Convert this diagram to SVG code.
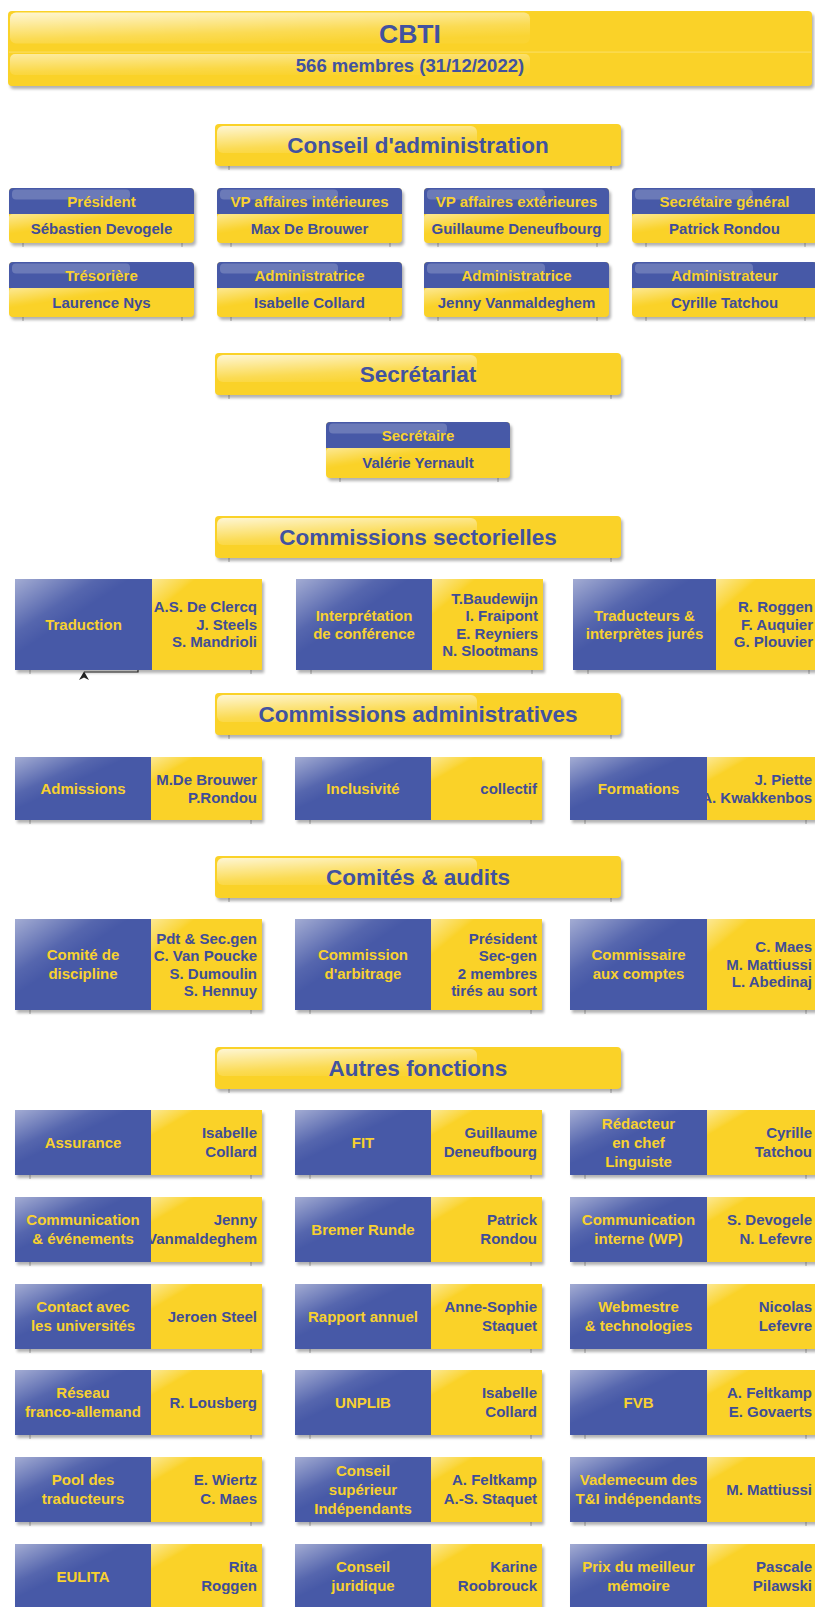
<svg xmlns="http://www.w3.org/2000/svg" width="815" height="1607" viewBox="0 0 815 1607">
<defs>
<filter id="blur" x="-10%" y="-20%" width="130%" height="150%"><feGaussianBlur stdDeviation="1.6"/></filter>
<linearGradient id="gB" x1="0" y1="0" x2="1" y2="1"><stop offset="0" stop-color="#fff" stop-opacity=".5"/><stop offset=".3" stop-color="#fff" stop-opacity=".08"/><stop offset=".42" stop-color="#fff" stop-opacity="0"/></linearGradient>
<linearGradient id="gY" x1="0" y1="0" x2="1" y2="1"><stop offset="0" stop-color="#fff" stop-opacity=".5"/><stop offset=".17" stop-color="#fff" stop-opacity=".1"/><stop offset=".2" stop-color="#fff" stop-opacity="0"/></linearGradient>
<linearGradient id="gY2" x1="0" y1="0" x2="1" y2="1"><stop offset="0" stop-color="#fff" stop-opacity=".5"/><stop offset=".3" stop-color="#fff" stop-opacity=".05"/><stop offset=".35" stop-color="#fff" stop-opacity="0"/></linearGradient>
<linearGradient id="gBar" x1="0" y1="0" x2=".5" y2="1"><stop offset="0" stop-color="#fff" stop-opacity=".8"/><stop offset=".7" stop-color="#fff" stop-opacity=".2"/><stop offset="1" stop-color="#fff" stop-opacity=".05"/></linearGradient>
</defs>
<style>
.by{fill:#fad228}
.bb{fill:#4759a7}
.sh{fill:#000;opacity:.3;filter:url(#blur)}
.hg{fill:#fff;opacity:.2}
text{font-family:"Liberation Sans",Arial,sans-serif;font-weight:bold}
.tS{fill:#4152a0;font-size:22.5px;text-anchor:middle}
.tY{fill:#f8d12f;font-size:15px;text-anchor:middle}
.tN{fill:#3f4d98;font-size:15px;text-anchor:middle}
.tR{fill:#3f4d98;font-size:15px;text-anchor:end}
.tick{stroke:#8a8a8a;stroke-width:1;opacity:.7}
.arr{stroke:#333;stroke-width:1.2;fill:none}
</style>

<g id="connectors">
<path class="tick" d="M229,166V170M611,166V170M229,395V399M611,395V399M229,558V562M611,558V562M229,735V739M611,735V739M229,898V902M611,898V902M229,1089V1093M611,1089V1093"/>
<path class="tick" d="M23,243V247M182,243V247M231,243V247M390,243V247M438,243V247M597,243V247M646,243V247M805,243V247M23,317V321M182,317V321M231,317V321M390,317V321M438,317V321M597,317V321M646,317V321M805,317V321M340,478V482M498,478V482"/>
<path class="tick" d="M30,670V674M251,670V674M311,670V674M532,670V674M588,670V674M809,670V674"/>
<path class="tick" d="M30,820V824M251,820V824M310,820V824M531,820V824M585,820V824M806,820V824M30,1010V1014M251,1010V1014M310,1010V1014M531,1010V1014M585,1010V1014M806,1010V1014"/>
<path class="tick" d="M30,1175V1179M251,1175V1179M310,1175V1179M531,1175V1179M585,1175V1179M806,1175V1179M30,1262V1266M251,1262V1266M310,1262V1266M531,1262V1266M585,1262V1266M806,1262V1266M30,1349V1353M251,1349V1353M310,1349V1353M531,1349V1353M585,1349V1353M806,1349V1353M30,1435V1439M251,1435V1439M310,1435V1439M531,1435V1439M585,1435V1439M806,1435V1439M30,1522V1526M251,1522V1526M310,1522V1526M531,1522V1526M585,1522V1526M806,1522V1526"/>
<path class="arr" d="M138,668.5V672H84"/>
<polygon points="84,671.5 89,680 84,677.5 79,680" fill="#222"/>
</g>

<g id="title">
<rect class="sh" x="10" y="14" width="804" height="75" rx="4"/>
<rect class="by" x="8" y="11" width="804" height="75" rx="4"/>
<rect x="10" y="12.5" width="520" height="31" rx="6" fill="url(#gBar)"/>
<rect x="9" y="51.5" width="802" height="1.2" fill="#fff" opacity=".25"/>
<rect x="10" y="54" width="520" height="21" rx="5" fill="url(#gBar)" opacity=".7"/>
<text class="tS" x="410" y="43" style="font-size:26.5px">CBTI</text>
<text class="tS" x="410" y="71.5" style="font-size:18.5px">566 membres (31/12/2022)</text>
</g>

<g id="s-conseil">
<rect class="sh" x="217" y="127" width="406" height="42" rx="4"/>
<rect class="by" x="215" y="124" width="406" height="42" rx="4"/>
<rect x="217" y="126" width="260" height="27" rx="6" fill="url(#gBar)"/>
<text class="tS" x="418" y="153">Conseil d'administration</text>
</g>

<g id="b-president">
<rect class="sh" x="11" y="191" width="185" height="55" rx="4"/>
<rect class="by" x="9" y="188" width="185" height="55" rx="4"/>
<rect x="9" y="214" width="185" height="29" rx="4" fill="url(#gY2)"/>
<path class="bb" d="M9,214V192Q9,188 13,188H190Q194,188 194,192V214Z"/>
<rect class="hg" x="12" y="189.5" width="118" height="10" rx="4"/>
<text class="tY" x="101.5" y="207">Président</text>
<text class="tN" x="101.5" y="233.5">Sébastien Devogele</text>
</g>
<g id="b-vpint">
<rect class="sh" x="219" y="191" width="185" height="55" rx="4"/>
<rect class="by" x="217" y="188" width="185" height="55" rx="4"/>
<rect x="217" y="214" width="185" height="29" rx="4" fill="url(#gY2)"/>
<path class="bb" d="M217,214V192Q217,188 221,188H398Q402,188 402,192V214Z"/>
<rect class="hg" x="220" y="189.5" width="118" height="10" rx="4"/>
<text class="tY" x="309.5" y="207">VP affaires intérieures</text>
<text class="tN" x="309.5" y="233.5">Max De Brouwer</text>
</g>
<g id="b-vpext">
<rect class="sh" x="426" y="191" width="185" height="55" rx="4"/>
<rect class="by" x="424" y="188" width="185" height="55" rx="4"/>
<rect x="424" y="214" width="185" height="29" rx="4" fill="url(#gY2)"/>
<path class="bb" d="M424,214V192Q424,188 428,188H605Q609,188 609,192V214Z"/>
<rect class="hg" x="427" y="189.5" width="118" height="10" rx="4"/>
<text class="tY" x="516.5" y="207">VP affaires extérieures</text>
<text class="tN" x="516.5" y="233.5">Guillaume Deneufbourg</text>
</g>
<g id="b-secgen">
<rect class="sh" x="634" y="191" width="185" height="55" rx="4"/>
<rect class="by" x="632" y="188" width="185" height="55" rx="4"/>
<rect x="632" y="214" width="185" height="29" rx="4" fill="url(#gY2)"/>
<path class="bb" d="M632,214V192Q632,188 636,188H813Q817,188 817,192V214Z"/>
<rect class="hg" x="635" y="189.5" width="118" height="10" rx="4"/>
<text class="tY" x="724.5" y="207">Secrétaire général</text>
<text class="tN" x="724.5" y="233.5">Patrick Rondou</text>
</g>

<g id="b-tresoriere">
<rect class="sh" x="11" y="265" width="185" height="55" rx="4"/>
<rect class="by" x="9" y="262" width="185" height="55" rx="4"/>
<rect x="9" y="288" width="185" height="29" rx="4" fill="url(#gY2)"/>
<path class="bb" d="M9,288V266Q9,262 13,262H190Q194,262 194,266V288Z"/>
<rect class="hg" x="12" y="263.5" width="118" height="10" rx="4"/>
<text class="tY" x="101.5" y="281">Trésorière</text>
<text class="tN" x="101.5" y="307.5">Laurence Nys</text>
</g>
<g id="b-admin1">
<rect class="sh" x="219" y="265" width="185" height="55" rx="4"/>
<rect class="by" x="217" y="262" width="185" height="55" rx="4"/>
<rect x="217" y="288" width="185" height="29" rx="4" fill="url(#gY2)"/>
<path class="bb" d="M217,288V266Q217,262 221,262H398Q402,262 402,266V288Z"/>
<rect class="hg" x="220" y="263.5" width="118" height="10" rx="4"/>
<text class="tY" x="309.5" y="281">Administratrice</text>
<text class="tN" x="309.5" y="307.5">Isabelle Collard</text>
</g>
<g id="b-admin2">
<rect class="sh" x="426" y="265" width="185" height="55" rx="4"/>
<rect class="by" x="424" y="262" width="185" height="55" rx="4"/>
<rect x="424" y="288" width="185" height="29" rx="4" fill="url(#gY2)"/>
<path class="bb" d="M424,288V266Q424,262 428,262H605Q609,262 609,266V288Z"/>
<rect class="hg" x="427" y="263.5" width="118" height="10" rx="4"/>
<text class="tY" x="516.5" y="281">Administratrice</text>
<text class="tN" x="516.5" y="307.5">Jenny Vanmaldeghem</text>
</g>
<g id="b-admin3">
<rect class="sh" x="634" y="265" width="185" height="55" rx="4"/>
<rect class="by" x="632" y="262" width="185" height="55" rx="4"/>
<rect x="632" y="288" width="185" height="29" rx="4" fill="url(#gY2)"/>
<path class="bb" d="M632,288V266Q632,262 636,262H813Q817,262 817,266V288Z"/>
<rect class="hg" x="635" y="263.5" width="118" height="10" rx="4"/>
<text class="tY" x="724.5" y="281">Administrateur</text>
<text class="tN" x="724.5" y="307.5">Cyrille Tatchou</text>
</g>

<g id="s-secretariat">
<rect class="sh" x="217" y="356" width="406" height="42" rx="4"/>
<rect class="by" x="215" y="353" width="406" height="42" rx="4"/>
<rect x="217" y="355" width="260" height="27" rx="6" fill="url(#gBar)"/>
<text class="tS" x="418" y="382">Secrétariat</text>
</g>

<g id="b-secretaire">
<rect class="sh" x="328" y="425" width="184" height="56" rx="4"/>
<rect class="by" x="326" y="422" width="184" height="56" rx="4"/>
<rect x="326" y="448" width="184" height="30" rx="4" fill="url(#gY2)"/>
<path class="bb" d="M326,448V426Q326,422 330,422H506Q510,422 510,426V448Z"/>
<rect class="hg" x="329" y="423.5" width="118" height="10" rx="4"/>
<text class="tY" x="418" y="441">Secrétaire</text>
<text class="tN" x="418" y="468">Valérie Yernault</text>
</g>

<g id="s-sectorielles">
<rect class="sh" x="217" y="519" width="406" height="42" rx="4"/>
<rect class="by" x="215" y="516" width="406" height="42" rx="4"/>
<rect x="217" y="518" width="260" height="27" rx="6" fill="url(#gBar)"/>
<text class="tS" x="418" y="545">Commissions sectorielles</text>
</g>

<g id="c-traduction">
<rect class="sh" x="17" y="582" width="247" height="91"/>
<rect class="by" x="15" y="579" width="247" height="91"/>
<rect x="152" y="579" width="110" height="91" fill="url(#gY)"/>
<text class="tR"><tspan x="257" y="612.4">A.S. De Clercq</tspan><tspan x="257" y="629.9">J. Steels</tspan><tspan x="257" y="647.4">S. Mandrioli</tspan></text>
<rect class="bb" x="15" y="579" width="137" height="91"/>
<rect x="15" y="579" width="137" height="91" fill="url(#gB)"/>
<text class="tY" x="83.5" y="630">Traduction</text>
</g>
<g id="c-interpretation">
<rect class="sh" x="298" y="582" width="247" height="91"/>
<rect class="by" x="296" y="579" width="247" height="91"/>
<rect x="432" y="579" width="111" height="91" fill="url(#gY)"/>
<text class="tR"><tspan x="538" y="603.7">T.Baudewijn</tspan><tspan x="538" y="621.2">I. Fraipont</tspan><tspan x="538" y="638.7">E. Reyniers</tspan><tspan x="538" y="656.2">N. Slootmans</tspan></text>
<rect class="bb" x="296" y="579" width="136" height="91"/>
<rect x="296" y="579" width="136" height="91" fill="url(#gB)"/>
<text class="tY"><tspan x="364" y="621.2">Interprétation</tspan><tspan x="364" y="638.7">de conférence</tspan></text>
</g>
<g id="c-jures">
<rect class="sh" x="575" y="582" width="247" height="91"/>
<rect class="by" x="573" y="579" width="247" height="91"/>
<rect x="716" y="579" width="104" height="91" fill="url(#gY)"/>
<text class="tR"><tspan x="813" y="612.4">R. Roggen</tspan><tspan x="813" y="629.9">F. Auquier</tspan><tspan x="813" y="647.4">G. Plouvier</tspan></text>
<rect class="bb" x="573" y="579" width="143" height="91"/>
<rect x="573" y="579" width="143" height="91" fill="url(#gB)"/>
<text class="tY"><tspan x="644.5" y="621.2">Traducteurs &amp;</tspan><tspan x="644.5" y="638.7">interprètes jurés</tspan></text>
</g>

<g id="s-administratives">
<rect class="sh" x="217" y="696" width="406" height="42" rx="4"/>
<rect class="by" x="215" y="693" width="406" height="42" rx="4"/>
<rect x="217" y="695" width="260" height="27" rx="6" fill="url(#gBar)"/>
<text class="tS" x="418" y="722">Commissions administratives</text>
</g>

<g id="c-admissions">
<rect class="sh" x="17" y="760" width="247" height="63"/>
<rect class="by" x="15" y="757" width="247" height="63"/>
<rect x="151" y="757" width="111" height="63" fill="url(#gY)"/>
<text class="tR"><tspan x="257" y="784.9">M.De Brouwer</tspan><tspan x="257" y="802.9">P.Rondou</tspan></text>
<rect class="bb" x="15" y="757" width="136" height="63"/>
<rect x="15" y="757" width="136" height="63" fill="url(#gB)"/>
<text class="tY" x="83" y="793.9">Admissions</text>
</g>
<g id="c-inclusivite">
<rect class="sh" x="297" y="760" width="247" height="63"/>
<rect class="by" x="295" y="757" width="247" height="63"/>
<rect x="431" y="757" width="111" height="63" fill="url(#gY)"/>
<text class="tR" x="537" y="793.9">collectif</text>
<rect class="bb" x="295" y="757" width="136" height="63"/>
<rect x="295" y="757" width="136" height="63" fill="url(#gB)"/>
<text class="tY" x="363" y="793.9">Inclusivité</text>
</g>
<g id="c-formations">
<rect class="sh" x="572" y="760" width="247" height="63"/>
<rect class="by" x="570" y="757" width="247" height="63"/>
<rect x="707" y="757" width="110" height="63" fill="url(#gY)"/>
<text class="tR"><tspan x="812" y="784.9">J. Piette</tspan><tspan x="812" y="802.9">A. Kwakkenbos</tspan></text>
<rect class="bb" x="570" y="757" width="137" height="63"/>
<rect x="570" y="757" width="137" height="63" fill="url(#gB)"/>
<text class="tY" x="638.5" y="793.9">Formations</text>
</g>

<g id="s-comites">
<rect class="sh" x="217" y="859" width="406" height="42" rx="4"/>
<rect class="by" x="215" y="856" width="406" height="42" rx="4"/>
<rect x="217" y="858" width="260" height="27" rx="6" fill="url(#gBar)"/>
<text class="tS" x="418" y="885">Comités &amp; audits</text>
</g>

<g id="c-discipline">
<rect class="sh" x="17" y="922" width="247" height="91"/>
<rect class="by" x="15" y="919" width="247" height="91"/>
<rect x="151" y="919" width="111" height="91" fill="url(#gY)"/>
<text class="tR"><tspan x="257" y="943.7">Pdt &amp; Sec.gen</tspan><tspan x="257" y="961.2">C. Van Poucke</tspan><tspan x="257" y="978.7">S. Dumoulin</tspan><tspan x="257" y="996.2">S. Hennuy</tspan></text>
<rect class="bb" x="15" y="919" width="136" height="91"/>
<rect x="15" y="919" width="136" height="91" fill="url(#gB)"/>
<text class="tY"><tspan x="83" y="960.4">Comité de</tspan><tspan x="83" y="979.4">discipline</tspan></text>
</g>
<g id="c-arbitrage">
<rect class="sh" x="297" y="922" width="247" height="91"/>
<rect class="by" x="295" y="919" width="247" height="91"/>
<rect x="431" y="919" width="111" height="91" fill="url(#gY)"/>
<text class="tR"><tspan x="537" y="943.7">Président</tspan><tspan x="537" y="961.2">Sec-gen</tspan><tspan x="537" y="978.7">2 membres</tspan><tspan x="537" y="996.2">tirés au sort</tspan></text>
<rect class="bb" x="295" y="919" width="136" height="91"/>
<rect x="295" y="919" width="136" height="91" fill="url(#gB)"/>
<text class="tY"><tspan x="363" y="960.4">Commission</tspan><tspan x="363" y="979.4">d'arbitrage</tspan></text>
</g>
<g id="c-comptes">
<rect class="sh" x="572" y="922" width="247" height="91"/>
<rect class="by" x="570" y="919" width="247" height="91"/>
<rect x="707" y="919" width="110" height="91" fill="url(#gY)"/>
<text class="tR"><tspan x="812" y="952.4">C. Maes</tspan><tspan x="812" y="969.9">M. Mattiussi</tspan><tspan x="812" y="987.4">L. Abedinaj</tspan></text>
<rect class="bb" x="570" y="919" width="137" height="91"/>
<rect x="570" y="919" width="137" height="91" fill="url(#gB)"/>
<text class="tY"><tspan x="638.5" y="960.4">Commissaire</tspan><tspan x="638.5" y="979.4">aux comptes</tspan></text>
</g>

<g id="s-autres">
<rect class="sh" x="217" y="1050" width="406" height="42" rx="4"/>
<rect class="by" x="215" y="1047" width="406" height="42" rx="4"/>
<rect x="217" y="1049" width="260" height="27" rx="6" fill="url(#gBar)"/>
<text class="tS" x="418" y="1076">Autres fonctions</text>
</g>

<g id="a-assurance">
<rect class="sh" x="17" y="1113" width="247" height="65"/>
<rect class="by" x="15" y="1110" width="247" height="65"/>
<rect x="151" y="1110" width="111" height="65" fill="url(#gY)"/>
<text class="tR"><tspan x="257" y="1138.4">Isabelle</tspan><tspan x="257" y="1157.4">Collard</tspan></text>
<rect class="bb" x="15" y="1110" width="136" height="65"/>
<rect x="15" y="1110" width="136" height="65" fill="url(#gB)"/>
<text class="tY" x="83" y="1147.9">Assurance</text>
</g>
<g id="a-fit">
<rect class="sh" x="297" y="1113" width="247" height="65"/>
<rect class="by" x="295" y="1110" width="247" height="65"/>
<rect x="431" y="1110" width="111" height="65" fill="url(#gY)"/>
<text class="tR"><tspan x="537" y="1138.4">Guillaume</tspan><tspan x="537" y="1157.4">Deneufbourg</tspan></text>
<rect class="bb" x="295" y="1110" width="136" height="65"/>
<rect x="295" y="1110" width="136" height="65" fill="url(#gB)"/>
<text class="tY" x="363" y="1147.9">FIT</text>
</g>
<g id="a-redacteur">
<rect class="sh" x="572" y="1113" width="247" height="65"/>
<rect class="by" x="570" y="1110" width="247" height="65"/>
<rect x="707" y="1110" width="110" height="65" fill="url(#gY)"/>
<text class="tR"><tspan x="812" y="1138.4">Cyrille</tspan><tspan x="812" y="1157.4">Tatchou</tspan></text>
<rect class="bb" x="570" y="1110" width="137" height="65"/>
<rect x="570" y="1110" width="137" height="65" fill="url(#gB)"/>
<text class="tY"><tspan x="638.5" y="1128.9">Rédacteur</tspan><tspan x="638.5" y="1147.9">en chef</tspan><tspan x="638.5" y="1166.9">Linguiste</tspan></text>
</g>

<g id="a-communication">
<rect class="sh" x="17" y="1200" width="247" height="65"/>
<rect class="by" x="15" y="1197" width="247" height="65"/>
<rect x="151" y="1197" width="111" height="65" fill="url(#gY)"/>
<text class="tR"><tspan x="257" y="1225.4">Jenny</tspan><tspan x="257" y="1244.4">Vanmaldeghem</tspan></text>
<rect class="bb" x="15" y="1197" width="136" height="65"/>
<rect x="15" y="1197" width="136" height="65" fill="url(#gB)"/>
<text class="tY"><tspan x="83" y="1225.4">Communication</tspan><tspan x="83" y="1244.4">&amp; événements</tspan></text>
</g>
<g id="a-bremer">
<rect class="sh" x="297" y="1200" width="247" height="65"/>
<rect class="by" x="295" y="1197" width="247" height="65"/>
<rect x="431" y="1197" width="111" height="65" fill="url(#gY)"/>
<text class="tR"><tspan x="537" y="1225.4">Patrick</tspan><tspan x="537" y="1244.4">Rondou</tspan></text>
<rect class="bb" x="295" y="1197" width="136" height="65"/>
<rect x="295" y="1197" width="136" height="65" fill="url(#gB)"/>
<text class="tY" x="363" y="1234.9">Bremer Runde</text>
</g>
<g id="a-interne">
<rect class="sh" x="572" y="1200" width="247" height="65"/>
<rect class="by" x="570" y="1197" width="247" height="65"/>
<rect x="707" y="1197" width="110" height="65" fill="url(#gY)"/>
<text class="tR"><tspan x="812" y="1225.4">S. Devogele</tspan><tspan x="812" y="1244.4">N. Lefevre</tspan></text>
<rect class="bb" x="570" y="1197" width="137" height="65"/>
<rect x="570" y="1197" width="137" height="65" fill="url(#gB)"/>
<text class="tY"><tspan x="638.5" y="1225.4">Communication</tspan><tspan x="638.5" y="1244.4">interne (WP)</tspan></text>
</g>

<g id="a-universites">
<rect class="sh" x="17" y="1287" width="247" height="65"/>
<rect class="by" x="15" y="1284" width="247" height="65"/>
<rect x="151" y="1284" width="111" height="65" fill="url(#gY)"/>
<text class="tR" x="257" y="1321.9">Jeroen Steel</text>
<rect class="bb" x="15" y="1284" width="136" height="65"/>
<rect x="15" y="1284" width="136" height="65" fill="url(#gB)"/>
<text class="tY"><tspan x="83" y="1312.4">Contact avec</tspan><tspan x="83" y="1331.4">les universités</tspan></text>
</g>
<g id="a-rapport">
<rect class="sh" x="297" y="1287" width="247" height="65"/>
<rect class="by" x="295" y="1284" width="247" height="65"/>
<rect x="431" y="1284" width="111" height="65" fill="url(#gY)"/>
<text class="tR"><tspan x="537" y="1312.4">Anne-Sophie</tspan><tspan x="537" y="1331.4">Staquet</tspan></text>
<rect class="bb" x="295" y="1284" width="136" height="65"/>
<rect x="295" y="1284" width="136" height="65" fill="url(#gB)"/>
<text class="tY" x="363" y="1321.9">Rapport annuel</text>
</g>
<g id="a-webmestre">
<rect class="sh" x="572" y="1287" width="247" height="65"/>
<rect class="by" x="570" y="1284" width="247" height="65"/>
<rect x="707" y="1284" width="110" height="65" fill="url(#gY)"/>
<text class="tR"><tspan x="812" y="1312.4">Nicolas</tspan><tspan x="812" y="1331.4">Lefevre</tspan></text>
<rect class="bb" x="570" y="1284" width="137" height="65"/>
<rect x="570" y="1284" width="137" height="65" fill="url(#gB)"/>
<text class="tY"><tspan x="638.5" y="1312.4">Webmestre</tspan><tspan x="638.5" y="1331.4">&amp; technologies</tspan></text>
</g>

<g id="a-reseau">
<rect class="sh" x="17" y="1373" width="247" height="65"/>
<rect class="by" x="15" y="1370" width="247" height="65"/>
<rect x="151" y="1370" width="111" height="65" fill="url(#gY)"/>
<text class="tR" x="257" y="1407.9">R. Lousberg</text>
<rect class="bb" x="15" y="1370" width="136" height="65"/>
<rect x="15" y="1370" width="136" height="65" fill="url(#gB)"/>
<text class="tY"><tspan x="83" y="1398.4">Réseau</tspan><tspan x="83" y="1417.4">franco-allemand</tspan></text>
</g>
<g id="a-unplib">
<rect class="sh" x="297" y="1373" width="247" height="65"/>
<rect class="by" x="295" y="1370" width="247" height="65"/>
<rect x="431" y="1370" width="111" height="65" fill="url(#gY)"/>
<text class="tR"><tspan x="537" y="1398.4">Isabelle</tspan><tspan x="537" y="1417.4">Collard</tspan></text>
<rect class="bb" x="295" y="1370" width="136" height="65"/>
<rect x="295" y="1370" width="136" height="65" fill="url(#gB)"/>
<text class="tY" x="363" y="1407.9">UNPLIB</text>
</g>
<g id="a-fvb">
<rect class="sh" x="572" y="1373" width="247" height="65"/>
<rect class="by" x="570" y="1370" width="247" height="65"/>
<rect x="707" y="1370" width="110" height="65" fill="url(#gY)"/>
<text class="tR"><tspan x="812" y="1398.4">A. Feltkamp</tspan><tspan x="812" y="1417.4">E. Govaerts</tspan></text>
<rect class="bb" x="570" y="1370" width="137" height="65"/>
<rect x="570" y="1370" width="137" height="65" fill="url(#gB)"/>
<text class="tY" x="638.5" y="1407.9">FVB</text>
</g>

<g id="a-pool">
<rect class="sh" x="17" y="1460" width="247" height="65"/>
<rect class="by" x="15" y="1457" width="247" height="65"/>
<rect x="151" y="1457" width="111" height="65" fill="url(#gY)"/>
<text class="tR"><tspan x="257" y="1485.4">E. Wiertz</tspan><tspan x="257" y="1504.4">C. Maes</tspan></text>
<rect class="bb" x="15" y="1457" width="136" height="65"/>
<rect x="15" y="1457" width="136" height="65" fill="url(#gB)"/>
<text class="tY"><tspan x="83" y="1485.4">Pool des</tspan><tspan x="83" y="1504.4">traducteurs</tspan></text>
</g>
<g id="a-csi">
<rect class="sh" x="297" y="1460" width="247" height="65"/>
<rect class="by" x="295" y="1457" width="247" height="65"/>
<rect x="431" y="1457" width="111" height="65" fill="url(#gY)"/>
<text class="tR"><tspan x="537" y="1485.4">A. Feltkamp</tspan><tspan x="537" y="1504.4">A.-S. Staquet</tspan></text>
<rect class="bb" x="295" y="1457" width="136" height="65"/>
<rect x="295" y="1457" width="136" height="65" fill="url(#gB)"/>
<text class="tY"><tspan x="363" y="1475.9">Conseil</tspan><tspan x="363" y="1494.9">supérieur</tspan><tspan x="363" y="1513.9">Indépendants</tspan></text>
</g>
<g id="a-vademecum">
<rect class="sh" x="572" y="1460" width="247" height="65"/>
<rect class="by" x="570" y="1457" width="247" height="65"/>
<rect x="707" y="1457" width="110" height="65" fill="url(#gY)"/>
<text class="tR" x="812" y="1494.9">M. Mattiussi</text>
<rect class="bb" x="570" y="1457" width="137" height="65"/>
<rect x="570" y="1457" width="137" height="65" fill="url(#gB)"/>
<text class="tY"><tspan x="638.5" y="1485.4">Vademecum des</tspan><tspan x="638.5" y="1504.4">T&amp;I indépendants</tspan></text>
</g>

<g id="a-eulita">
<rect class="sh" x="17" y="1547" width="247" height="65"/>
<rect class="by" x="15" y="1544" width="247" height="65"/>
<rect x="151" y="1544" width="111" height="65" fill="url(#gY)"/>
<text class="tR"><tspan x="257" y="1572.4">Rita</tspan><tspan x="257" y="1591.4">Roggen</tspan></text>
<rect class="bb" x="15" y="1544" width="136" height="65"/>
<rect x="15" y="1544" width="136" height="65" fill="url(#gB)"/>
<text class="tY" x="83" y="1581.9">EULITA</text>
</g>
<g id="a-juridique">
<rect class="sh" x="297" y="1547" width="247" height="65"/>
<rect class="by" x="295" y="1544" width="247" height="65"/>
<rect x="431" y="1544" width="111" height="65" fill="url(#gY)"/>
<text class="tR"><tspan x="537" y="1572.4">Karine</tspan><tspan x="537" y="1591.4">Roobrouck</tspan></text>
<rect class="bb" x="295" y="1544" width="136" height="65"/>
<rect x="295" y="1544" width="136" height="65" fill="url(#gB)"/>
<text class="tY"><tspan x="363" y="1572.4">Conseil</tspan><tspan x="363" y="1591.4">juridique</tspan></text>
</g>
<g id="a-prix">
<rect class="sh" x="572" y="1547" width="247" height="65"/>
<rect class="by" x="570" y="1544" width="247" height="65"/>
<rect x="707" y="1544" width="110" height="65" fill="url(#gY)"/>
<text class="tR"><tspan x="812" y="1572.4">Pascale</tspan><tspan x="812" y="1591.4">Pilawski</tspan></text>
<rect class="bb" x="570" y="1544" width="137" height="65"/>
<rect x="570" y="1544" width="137" height="65" fill="url(#gB)"/>
<text class="tY"><tspan x="638.5" y="1572.4">Prix du meilleur</tspan><tspan x="638.5" y="1591.4">mémoire</tspan></text>
</g>
</svg>
